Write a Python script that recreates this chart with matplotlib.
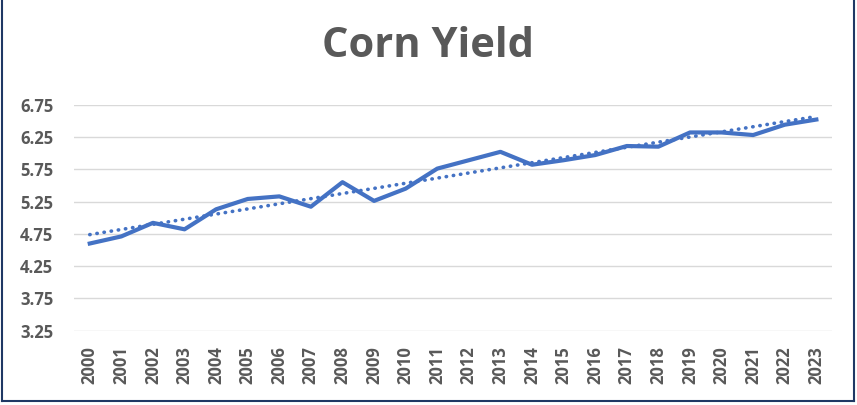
import numpy as np
import matplotlib
matplotlib.use("Agg")
import matplotlib.pyplot as plt
from matplotlib.lines import Line2D

years = [str(y) for y in range(2000, 2024)]
yield_vals = [4.60, 4.71, 4.92, 4.82, 5.13, 5.29, 5.33, 5.17, 5.55, 5.26,
              5.45, 5.76, 5.89, 6.02, 5.82, 5.89, 5.97, 6.11, 6.10, 6.32,
              6.32, 6.28, 6.44, 6.52]
y_ticks = [3.25, 3.75, 4.25, 4.75, 5.25, 5.75, 6.25, 6.75]

blue = '#4472C4'
grey = '#595959'

plt.rcParams['font.family'] = ['Open Sans', 'DejaVu Sans']

fig = plt.figure(figsize=(8.57, 4.05), dpi=100)
ax = fig.add_axes([0.0863, 0.1835, 0.8847, 0.558])

x = np.arange(len(years))
# linear trendline like Excel
k, b = np.polyfit(x, yield_vals, 1)
ax.plot(x, k * x + b, color=blue, lw=2.6, linestyle=(0, (0.1, 1.9)),
        dash_capstyle='round', zorder=2)
ax.plot(x, yield_vals, color=blue, lw=3.0, solid_joinstyle='round', zorder=3)

ax.set_xlim(-0.5, len(years) - 0.5)
ax.set_ylim(3.25, 6.75)
ax.set_yticks(y_ticks)
ax.set_yticklabels([f'{v:.2f}' for v in y_ticks])
ax.set_xticks(x)
ax.set_xticklabels(years, rotation=90)
ax.tick_params(length=0, labelsize=12, labelcolor=grey)
ax.tick_params(axis='x', pad=11)
ax.tick_params(axis='y', pad=15)
for lab in ax.get_xticklabels() + ax.get_yticklabels():
    lab.set_fontweight('bold')
ax.grid(axis='y', color='#D9D9D9', lw=1.0)
ax.set_axisbelow(True)
for s in ax.spines.values():
    s.set_visible(False)

fig.text(0.5, 0.885, 'Corn Yield', ha='center', va='center',
         fontsize=30, fontweight='bold', color=grey)

# frame around the chart (left, right, bottom)
navy = '#1F3864'
fig.add_artist(Line2D([0.002, 0.002], [0.01, 1.0], color=navy, lw=1.5))
fig.add_artist(Line2D([0.997, 0.997], [0.01, 1.0], color=navy, lw=1.5))
fig.add_artist(Line2D([0.002, 0.997], [0.01, 0.01], color=navy, lw=1.5))

fig.savefig('out.png', dpi=100)
